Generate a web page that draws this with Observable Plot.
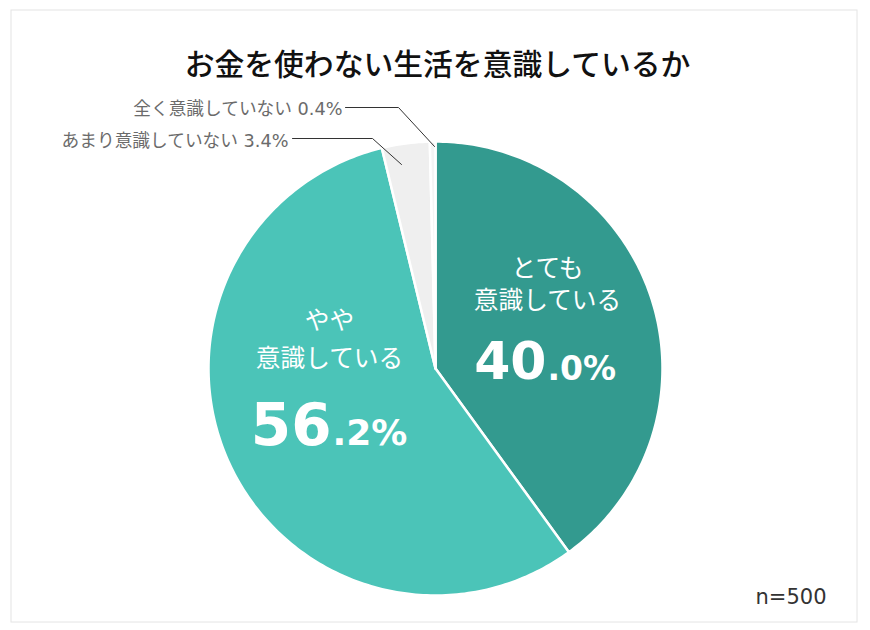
<!DOCTYPE html>
<html lang="ja">
<head>
<meta charset="utf-8">
<script src="https://cdn.jsdelivr.net/npm/d3@7"></script>
<script src="https://cdn.jsdelivr.net/npm/@observablehq/plot@0.6"></script>
<style>
html,body{margin:0;padding:0;background:#fff;}
svg{display:block;}
</style>
</head>
<body>
<div id="chart"></div>
<script>
const titleText = "お金を使わない生活を意識しているか";
const categories = ["とても意識している", "やや意識している", "あまり意識していない", "全く意識していない"];
const shares = [40.0, 56.2, 3.4, 0.4];
const sliceColors = ["#339A8F", "#4BC4B8", "#EFEFEF", "#F4F4F4"];
const sampleNote = "n=500";

const FONT = '"DejaVu Sans","Noto Sans CJK JP",sans-serif';
const CX = 435, CY = 368, R = 227;

const arcs = d3.pie().sort(null)(shares);
const wedgePoints = arcs.flatMap((a, i) => {
  const steps = Math.max(2, Math.ceil((a.endAngle - a.startAngle) * 60));
  const pts = [{k: categories[i], x: CX, y: CY}];
  for (let s = 0; s <= steps; s++) {
    const t = a.startAngle + (a.endAngle - a.startAngle) * s / steps;
    pts.push({k: categories[i], x: CX + R * Math.sin(t), y: CY - R * Math.cos(t)});
  }
  pts.push({k: categories[i], x: CX, y: CY});
  return pts;
});

const whiteLabels = [
  {t: "とても", x: 547, y: 269},
  {t: "意識している", x: 547, y: 301},
  {t: "やや", x: 329, y: 321},
  {t: "意識している", x: 329, y: 359}
];
const bigParts = [{t: "40", x: 546, y: 362, s: 52}, {t: "56", x: 331, y: 426, s: 58}];
const smallParts = [{t: ".0%", x: 547, y: 369, s: 33}, {t: ".2%", x: 332, y: 433, s: 36}];
const outerLabels = [
  {t: "全く意識していない 0.4%", x: 342, y: 109},
  {t: "あまり意識していない 3.4%", x: 288, y: 141}
];
const leader1 = [{x: 345, y: 107}, {x: 398, y: 107}, {x: 434, y: 146}];
const leader2 = [{x: 292, y: 138}, {x: 372, y: 138}, {x: 401, y: 164}];

const chart = Plot.plot({
  width: 870, height: 630,
  margin: 0,
  style: {background: "#fff", fontFamily: FONT},
  x: {domain: [0, 870], range: [0, 870], axis: null},
  y: {domain: [0, 630], range: [0, 630], axis: null},
  color: {domain: categories, range: sliceColors},
  marks: [
    Plot.rect([{}], {x1: () => 11, x2: () => 857, y1: () => 10, y2: () => 622, fill: "#fff", stroke: "#E4E4E4", strokeWidth: 1}),
    Plot.line(wedgePoints, {x: "x", y: "y", z: "k", fill: "k", stroke: "#fff", strokeWidth: 2.5, strokeLinejoin: "round"}),
    Plot.line(leader1, {x: "x", y: "y", stroke: "#333", strokeWidth: 1}),
    Plot.line(leader2, {x: "x", y: "y", stroke: "#333", strokeWidth: 1}),
    Plot.text([titleText], {x: () => 437, y: () => 64.5, text: d => d, fontSize: 29.8, fontWeight: 500, fill: "#111", fontFamily: FONT}),
    Plot.text(whiteLabels, {x: "x", y: "y", text: "t", fontSize: 24.7, fill: "#fff", fontFamily: FONT}),
    Plot.text(bigParts, {x: "x", y: "y", text: "t", textAnchor: "end", fontSize: "s", fontWeight: 700, fill: "#fff", fontFamily: FONT}),
    Plot.text(smallParts, {x: "x", y: "y", text: "t", textAnchor: "start", fontSize: "s", fontWeight: 700, fill: "#fff", fontFamily: FONT}),
    Plot.text(outerLabels, {x: "x", y: "y", text: "t", textAnchor: "end", fontSize: 17.7, fill: "#6b6b6b", fontFamily: FONT}),
    Plot.text([sampleNote], {x: () => 826, y: () => 597, text: d => d, textAnchor: "end", fontSize: 21, fill: "#333", fontFamily: FONT})
  ]
});
document.getElementById("chart").append(chart);
</script>
</body>
</html>
